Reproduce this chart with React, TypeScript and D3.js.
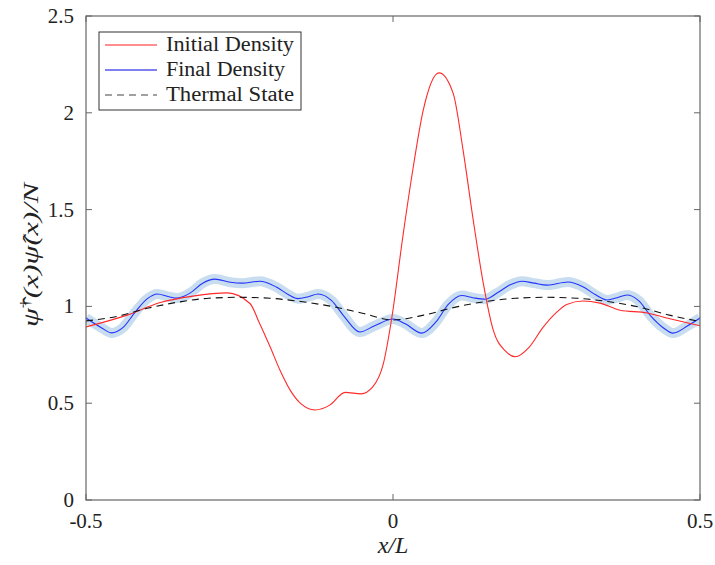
import React from "react";
import * as d3 from "d3";

const xTicks = [-0.5, 0, 0.5];
const xTickLabels = ["-0.5", "0", "0.5"];
const yTicks = [0, 0.5, 1, 1.5, 2, 2.5];

const initialX = [-0.5, -0.433, -0.379, -0.326, -0.27, -0.233, -0.217, -0.2, -0.184, -0.168, -0.151, -0.127, -0.103, -0.078, -0.052, -0.033, -0.016, -0.002, 0.016, 0.033, 0.049, 0.075, 0.098, 0.114, 0.13, 0.147, 0.163, 0.183, 0.199, 0.222, 0.244, 0.265, 0.283, 0.309, 0.337, 0.37, 0.414, 0.446, 0.5];
const initialY = [0.894, 0.955, 1.02, 1.053, 1.07, 1.015, 0.91, 0.79, 0.67, 0.57, 0.5, 0.465, 0.49, 0.556, 0.548, 0.584, 0.7, 0.94, 1.36, 1.72, 2.01, 2.206, 2.1, 1.81, 1.46, 1.12, 0.88, 0.77, 0.74, 0.79, 0.89, 0.965, 1.01, 1.028, 1.017, 0.98, 0.966, 0.94, 0.9];

const finalX = [-0.5, -0.475, -0.458, -0.44, -0.42, -0.4, -0.384, -0.365, -0.352, -0.33, -0.31, -0.29, -0.265, -0.246, -0.217, -0.19, -0.17, -0.155, -0.138, -0.122, -0.1, -0.08, -0.054, -0.03, 0, 0.02, 0.047, 0.07, 0.09, 0.112, 0.13, 0.15, 0.17, 0.19, 0.21, 0.23, 0.251, 0.285, 0.31, 0.33, 0.349, 0.365, 0.381, 0.4, 0.42, 0.44, 0.456, 0.48, 0.5];
const finalY = [0.94, 0.89, 0.863, 0.89, 0.97, 1.04, 1.064, 1.05, 1.043, 1.07, 1.12, 1.141, 1.125, 1.12, 1.13, 1.1, 1.06, 1.04, 1.05, 1.064, 1.03, 0.95, 0.868, 0.9, 0.935, 0.91, 0.862, 0.92, 1.01, 1.056, 1.045, 1.037, 1.07, 1.11, 1.13, 1.12, 1.11, 1.126, 1.1, 1.06, 1.033, 1.045, 1.059, 1.03, 0.95, 0.89, 0.862, 0.9, 0.94];

const thermalX = [-0.5, -0.45, -0.4, -0.35, -0.3, -0.25, -0.2, -0.15, -0.1, -0.05, 0, 0.05, 0.1, 0.15, 0.2, 0.25, 0.3, 0.35, 0.4, 0.45, 0.5];
const thermalY = [0.925, 0.948, 0.99, 1.022, 1.042, 1.047, 1.042, 1.025, 1.0, 0.965, 0.93, 0.955, 0.995, 1.025, 1.042, 1.047, 1.042, 1.025, 0.997, 0.955, 0.922];

const legendLabels = ["Initial Density", "Final Density", "Thermal State"];
const legendWidths = [128, 119, 128];

const W = 715, H = 565;
const M = { left: 86, right: 700, top: 16, bottom: 500 };
const SERIF = "'Liberation Serif', 'DejaVu Serif', serif";

export default function App() {
  const x = d3.scaleLinear().domain([-0.5, 0.5]).range([M.left, M.right]);
  const y = d3.scaleLinear().domain([0, 2.5]).range([M.bottom, M.top]);
  const line = d3
    .line<[number, number]>()
    .x((d) => x(d[0]))
    .y((d) => y(d[1]))
    .curve(d3.curveMonotoneX);
  const zip = (a: number[], b: number[]) => a.map((v, i) => [v, b[i]] as [number, number]);
  const red = line(zip(initialX, initialY)) || "";
  const blue = line(zip(finalX, finalY)) || "";
  const thermal = line(zip(thermalX, thermalY)) || "";
  const axisColor = "#666";

  const legendItems = [
    { label: legendLabels[0], color: "#ff6a6a", dash: undefined as string | undefined, w: 1.4 },
    { label: legendLabels[1], color: "#0000dd", dash: undefined, w: 1 },
    { label: legendLabels[2], color: "#444", dash: "7,5", w: 1.2 },
  ];

  return (
    <svg width={W} height={H} style={{ position: "absolute", left: 0, top: 0, background: "#fff" }}>
      <defs>
        <clipPath id="plotclip">
          <rect x={M.left} y={M.top} width={M.right - M.left} height={M.bottom - M.top} />
        </clipPath>
      </defs>
      <rect x={0} y={0} width={W} height={H} fill="#fff" />
      <g clipPath="url(#plotclip)">
        <path d={blue} fill="none" stroke="#c8ddf0" strokeWidth={10} strokeLinejoin="round" />
        <path d={blue} fill="none" stroke="#2233ff" strokeWidth={1.1} />
        <path d={red} fill="none" stroke="#ff2a2a" strokeWidth={1.1} />
        <path d={thermal} fill="none" stroke="#111" strokeWidth={1.1} strokeDasharray="7,5" />
      </g>
      <rect x={M.left} y={M.top} width={M.right - M.left} height={M.bottom - M.top} fill="none" stroke={axisColor} strokeWidth={1.2} />
      {xTicks.map((t, i) => (
        <g key={"xt" + t}>
          <line x1={x(t)} x2={x(t)} y1={M.bottom} y2={M.bottom - 6} stroke={axisColor} />
          <line x1={x(t)} x2={x(t)} y1={M.top} y2={M.top + 6} stroke={axisColor} />
          <text x={x(t)} y={M.bottom + 28} textAnchor="middle" fontFamily={SERIF} fontSize={21} fill="#222">
            {xTickLabels[i]}
          </text>
        </g>
      ))}
      {yTicks.map((t) => (
        <g key={"yt" + t}>
          <line x1={M.left} x2={M.left + 6} y1={y(t)} y2={y(t)} stroke={axisColor} />
          <line x1={M.right} x2={M.right - 6} y1={y(t)} y2={y(t)} stroke={axisColor} />
          <text x={M.left - 12} y={y(t) + 7} textAnchor="end" fontFamily={SERIF} fontSize={21} fill="#222">
            {String(t)}
          </text>
        </g>
      ))}
      <text x={x(0)} y={553} textAnchor="middle" fontFamily={SERIF} fontSize={24} fontStyle="italic" fill="#222">
        x/L
      </text>
      <text
        transform={`translate(38, 255) rotate(-90)`}
        textAnchor="middle"
        fontFamily={SERIF}
        fontSize={22}
        fontStyle="italic"
        fill="#222"
        textLength={144}
        lengthAdjust="spacingAndGlyphs"
      >
        <tspan>{"ψ\u0302"}</tspan>
        <tspan dy={-8} fontSize={14} fontStyle="normal">†</tspan>
        <tspan dy={8}>(x)</tspan>
        <tspan>{"ψ\u0302"}</tspan>
        <tspan>(x)/N</tspan>
      </text>
      <rect x={99} y={32} width={202} height={78} fill="#fff" stroke="#333" strokeWidth={1} />
      {legendItems.map((it, i) => {
        const ly = 45 + i * 25;
        return (
          <g key={it.label}>
            <line x1={105} x2={157} y1={ly} y2={ly} stroke={it.color} strokeWidth={it.w} strokeDasharray={it.dash} />
            <text
              x={166}
              y={ly + 6}
              fontFamily={SERIF}
              fontSize={20}
              fill="#222"
              textLength={legendWidths[i]}
              lengthAdjust="spacingAndGlyphs"
            >
              {it.label}
            </text>
          </g>
        );
      })}
    </svg>
  );
}
